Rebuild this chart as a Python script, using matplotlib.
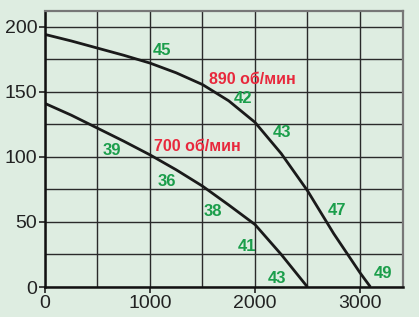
import matplotlib
matplotlib.use("Agg")
import matplotlib.pyplot as plt
from matplotlib.ticker import MultipleLocator

plt.rcParams['font.family'] = ['Liberation Sans', 'DejaVu Sans']

# Data
flow_890 = [0, 250, 500, 750, 1000, 1250, 1500, 1750, 2000, 2250, 2500, 2750, 3000, 3100]
press_890 = [194, 189, 183.5, 178, 172, 164.5, 155.5, 143, 126.5, 102.5, 74, 41, 11, 0]
flow_700 = [0, 250, 500, 750, 1000, 1250, 1500, 1750, 2000, 2250, 2500]
press_700 = [141, 132, 122, 112, 101.5, 90, 77.5, 63, 48, 25, 0]

noise_labels = ["45", "42", "43", "39", "36", "38", "47", "41", "43", "49"]
noise_x = [1114, 1886, 2257, 638, 1162, 1600, 2781, 1924, 2210, 3219]
noise_y = [181.5, 144.6, 118.5, 104.6, 80.8, 57.7, 58.5, 30.8, 6.9, 10]

speed_labels = ["890 об/мин", "700 об/мин"]
speed_x = [1976, 1450]
speed_y = [159, 107.7]

x_ticks = [0, 1000, 2000, 3000]
y_ticks = [0, 50, 100, 150, 200]

bg = '#deede1'
fig = plt.figure(figsize=(4.19, 3.17), dpi=100)
fig.patch.set_facecolor(bg)
ax = fig.add_axes([45/419, 30/317, 358/419, 276/317])
ax.set_facecolor(bg)

ax.set_xlim(0, 3410)
ax.set_ylim(0, 212)
ax.xaxis.set_minor_locator(MultipleLocator(500))
ax.yaxis.set_minor_locator(MultipleLocator(25))
ax.set_xticks(x_ticks)
ax.set_yticks(y_ticks)
ax.grid(which='both', color='#2a2a2a', linewidth=1.0)
ax.set_axisbelow(True)
ax.tick_params(which='minor', length=0)
ax.tick_params(which='major', length=4, width=1.2, color='#222222',
               labelsize=14, labelcolor='#222222', pad=1.5)

for s in ['left', 'bottom']:
    ax.spines[s].set_color('#111111')
    ax.spines[s].set_linewidth(1.8)
for s in ['top', 'right']:
    ax.spines[s].set_color('#777777')
    ax.spines[s].set_linewidth(1.6)

ax.plot(flow_890, press_890, color='#1a1a1a', linewidth=2.0,
        solid_capstyle='butt', solid_joinstyle='round')
ax.plot(flow_700, press_700, color='#1a1a1a', linewidth=2.0,
        solid_capstyle='butt', solid_joinstyle='round')

for t, x, y in zip(noise_labels, noise_x, noise_y):
    ax.text(x, y, t, color='#1b9e4b', fontsize=12, fontweight='bold',
            ha='center', va='center')
for t, x, y in zip(speed_labels, speed_x, speed_y):
    ax.text(x, y, t, color='#e8283c', fontsize=11.5, fontweight='bold',
            ha='center', va='center')

fig.savefig('out.png', dpi=100, facecolor=bg)
